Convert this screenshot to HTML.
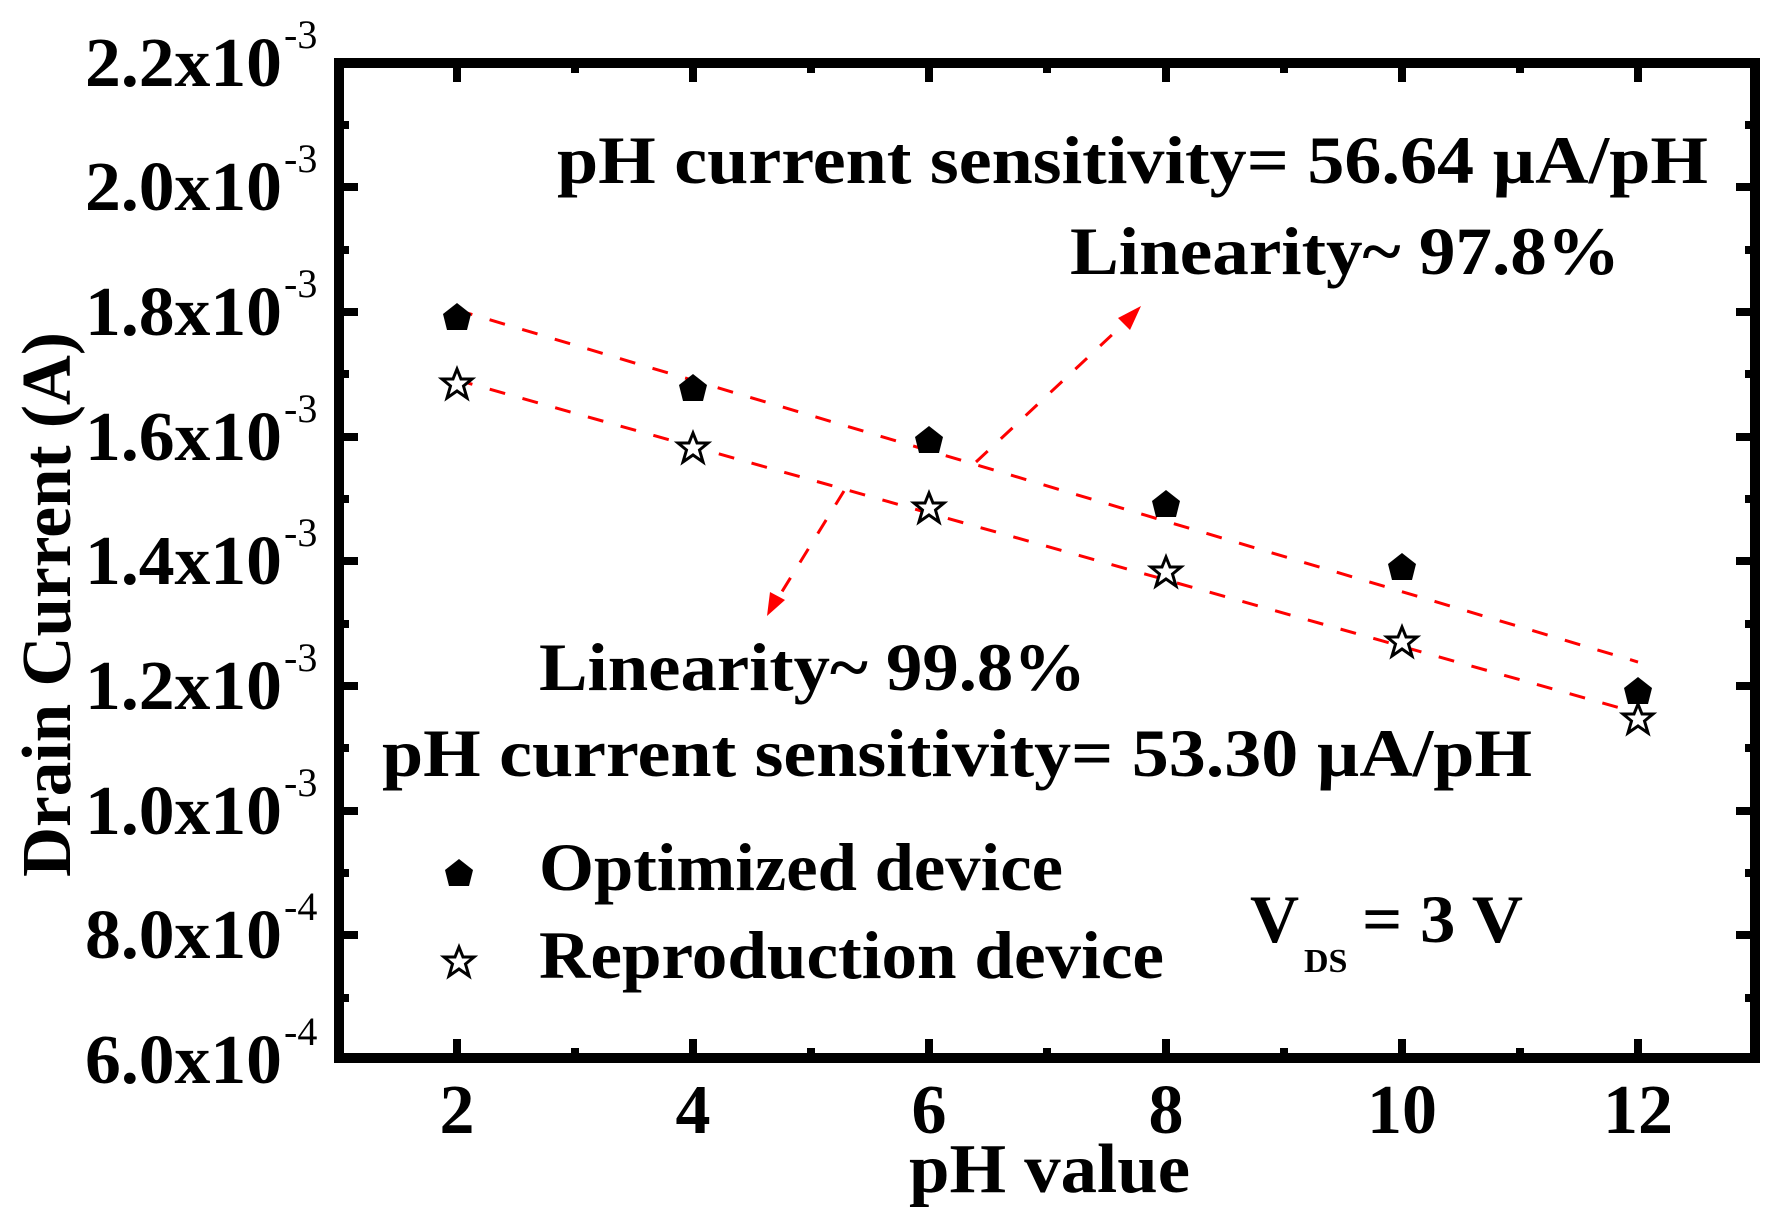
<!DOCTYPE html>
<html><head><meta charset="utf-8"><style>
html,body{margin:0;padding:0;background:#fff;}
svg{display:block;}
text{font-family:"Liberation Serif",serif;font-weight:bold;fill:#000;}
</style></head><body>
<svg width="1788" height="1230" viewBox="0 0 1788 1230" xmlns="http://www.w3.org/2000/svg">
<rect x="339" y="63" width="1416" height="995" fill="none" stroke="#000" stroke-width="10"/>
<g stroke="#000" stroke-width="8">
<path d="M457 1058v-19M693 1058v-19M929 1058v-19M1166 1058v-19M1402 1058v-19M1638 1058v-19
M457 63v19M693 63v19M929 63v19M1166 63v19M1402 63v19M1638 63v19"/>
<path d="M575 1058v-10M811 1058v-10M1047 1058v-10M1284 1058v-10M1520 1058v-10
M575 63v10M811 63v10M1047 63v10M1284 63v10M1520 63v10"/>
<path d="M339 187h19M339 312h19M339 437h19M339 561h19M339 686h19M339 811h19M339 935h19
M1755 187h-19M1755 312h-19M1755 437h-19M1755 561h-19M1755 686h-19M1755 811h-19M1755 935h-19"/>
<path d="M339 125h10M339 250h10M339 374h10M339 499h10M339 624h10M339 748h10M339 873h10M339 998h10
M1755 125h-10M1755 250h-10M1755 374h-10M1755 499h-10M1755 624h-10M1755 748h-10M1755 873h-10M1755 998h-10"/>
</g>
<g font-size="70">
<text x="85" y="86" textLength="197" lengthAdjust="spacingAndGlyphs">2.2x10</text>
<text x="85" y="210" textLength="197" lengthAdjust="spacingAndGlyphs">2.0x10</text>
<text x="85" y="335" textLength="197" lengthAdjust="spacingAndGlyphs">1.8x10</text>
<text x="85" y="460" textLength="197" lengthAdjust="spacingAndGlyphs">1.6x10</text>
<text x="85" y="584" textLength="197" lengthAdjust="spacingAndGlyphs">1.4x10</text>
<text x="85" y="709" textLength="197" lengthAdjust="spacingAndGlyphs">1.2x10</text>
<text x="85" y="834" textLength="197" lengthAdjust="spacingAndGlyphs">1.0x10</text>
<text x="85" y="958" textLength="197" lengthAdjust="spacingAndGlyphs">8.0x10</text>
<text x="85" y="1083" textLength="197" lengthAdjust="spacingAndGlyphs">6.0x10</text>
</g>
<g font-size="40">
<text x="284" y="48" style="font-weight:normal">-3</text><text x="284" y="172" style="font-weight:normal">-3</text>
<text x="284" y="297" style="font-weight:normal">-3</text><text x="284" y="422" style="font-weight:normal">-3</text>
<text x="284" y="546" style="font-weight:normal">-3</text><text x="284" y="671" style="font-weight:normal">-3</text>
<text x="284" y="796" style="font-weight:normal">-3</text><text x="284" y="920" style="font-weight:normal">-4</text>
<text x="284" y="1045" style="font-weight:normal">-4</text>
</g>
<g font-size="70" text-anchor="middle">
<text x="457" y="1133">2</text><text x="693" y="1133">4</text><text x="929" y="1133">6</text>
<text x="1166" y="1133">8</text><text x="1402" y="1133">10</text><text x="1638" y="1133">12</text>
</g>
<text x="909" y="1192" font-size="70" textLength="281" lengthAdjust="spacingAndGlyphs">pH value</text>
<text transform="translate(70,877) rotate(-90)" font-size="70" textLength="545" lengthAdjust="spacingAndGlyphs">Drain Current (A)</text>
<g stroke="#f00" stroke-width="3" stroke-dasharray="16,18" fill="none">
<line x1="457" y1="310" x2="1638" y2="662"/>
<line x1="457" y1="380" x2="1638" y2="713"/>
<line x1="976" y1="462" x2="1130" y2="318"/>
<line x1="844" y1="491" x2="775" y2="603"/>
</g>
<polygon points="1141,306 1118,318 1130,330" fill="#f00"/>
<polygon points="767,616 770,592 785,600" fill="#f00"/>
<defs>
<polygon id="pent" points="0,-14 14,-3 10,13 -10,13 -14,-3" fill="#000"/>
<polygon id="star" points="0,-15 4,-5 15,-5 6.5,2 10,14 0,7 -10,14 -6.5,2 -15,-5 -4,-5" fill="#fff" stroke="#000" stroke-width="3"/>
</defs>
<use href="#pent" x="457" y="317"/><use href="#pent" x="693" y="388"/><use href="#pent" x="929" y="440"/>
<use href="#pent" x="1166" y="504"/><use href="#pent" x="1402" y="567"/><use href="#pent" x="1638" y="691"/>
<use href="#star" x="457" y="384"/><use href="#star" x="693" y="448"/><use href="#star" x="929" y="508"/>
<use href="#star" x="1166" y="572"/><use href="#star" x="1402" y="642"/><use href="#star" x="1638" y="719"/>
<g font-size="68">
<text x="557" y="183" textLength="1151" lengthAdjust="spacingAndGlyphs">pH current sensitivity= 56.64 µA/pH</text>
<text x="1070" y="274" textLength="550" lengthAdjust="spacingAndGlyphs">Linearity~ 97.8%</text>
<text x="539" y="690" textLength="547" lengthAdjust="spacingAndGlyphs">Linearity~ 99.8%</text>
<text x="382" y="776" textLength="1150" lengthAdjust="spacingAndGlyphs">pH current sensitivity= 53.30 µA/pH</text>
<text x="539" y="890" textLength="524" lengthAdjust="spacingAndGlyphs">Optimized device</text>
<text x="539" y="978" textLength="625" lengthAdjust="spacingAndGlyphs">Reproduction device</text>
<text x="1250" y="942">V</text>
<text x="1362" y="942" textLength="161" lengthAdjust="spacingAndGlyphs">= 3 V</text>
</g>
<text x="1304" y="972" font-size="34">DS</text>
<use href="#pent" x="459" y="873"/>
<use href="#star" x="459" y="962"/>
</svg>
</body></html>
